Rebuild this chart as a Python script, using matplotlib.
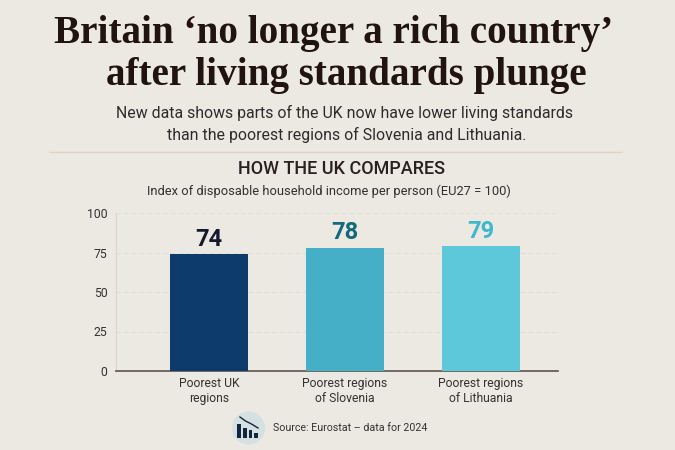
import matplotlib
matplotlib.use("Agg")
import matplotlib.pyplot as plt
from matplotlib.patches import Circle

categories = ["Poorest UK\nregions", "Poorest regions\nof Slovenia", "Poorest regions\nof Lithuania"]
values = [74, 78, 79]
bar_colors = ["#0d3b6c", "#46afc8", "#5cc8da"]
label_colors = ["#15192b", "#12697a", "#3fb8cb"]
y_ticks = [0, 25, 50, 75, 100]
icon_heights = [14, 10, 8, 4.5]
icon_positions = [-9.5, -3.5, 2, 7.5]

BG = "#ece8e2"
W, H = 675, 450

fig = plt.figure(figsize=(W / 100, H / 100), dpi=100, facecolor=BG)


def px(x, y):
    return x / W, 1 - y / H


def put(x, y, s, **kw):
    fig.text(*px(x, y), s, ha=kw.pop("ha", "center"), va="center", **kw)


# Headline block
put(334, 33, "Britain ‘no longer a rich country’", family="Liberation Serif",
    weight="bold", fontsize=28.2, color="#21130f")
put(346, 76, "after living standards plunge", family="Liberation Serif",
    weight="bold", fontsize=28.2, color="#21130f")
put(344.5, 113, "New data shows parts of the UK now have lower living standards",
    family="Roboto", fontsize=11.4, color="#2e2b2a")
put(346.5, 135, "than the poorest regions of Slovenia and Lithuania.",
    family="Roboto", fontsize=11.4, color="#2e2b2a")
fig.add_artist(plt.Line2D([50 / W, 621 / W], [1 - 151.5 / H] * 2, color="#dcd5c6", lw=0.9))
put(341.5, 169, "HOW THE UK COMPARES", family="Roboto", weight="medium",
    fontsize=13, color="#27221f")
put(328.5, 191, "Index of disposable household income per person (EU27 = 100)",
    family="Roboto", fontsize=9.3, color="#332f2d")

# Bar chart
left, right, top, bottom = 116, 558, 213, 371
ax = fig.add_axes([left / W, 1 - bottom / H, (right - left) / W, (bottom - top) / H])
ax.set_facecolor("none")
xs = list(range(len(values)))
ax.bar(xs, values, width=0.57, color=bar_colors, zorder=3)
ax.set_xlim(-0.684, 2.566)
ax.set_ylim(0, 100)
ax.set_xticks(xs, categories, family="Roboto", fontsize=8.7, color="#35312f", linespacing=1.15)
ax.set_yticks(y_ticks, [str(t) for t in y_ticks], family="Roboto", fontsize=8.8, color="#35312f")
ax.tick_params(length=0)
ax.tick_params(axis="x", pad=4.5)
ax.tick_params(axis="y", pad=6)
ax.grid(axis="y", color="#e3ddd3", lw=0.8, ls=(0, (4, 3)), zorder=0)
ax.set_axisbelow(True)
for side in ("top", "right"):
    ax.spines[side].set_visible(False)
ax.spines["left"].set_color("#dcd7ce")
ax.spines["left"].set_linewidth(0.8)
ax.spines["bottom"].set_color("#5a534e")
ax.spines["bottom"].set_linewidth(1.2)
for x, v, c in zip(xs, values, label_colors):
    ax.annotate(str(v), (x, v), xytext=(0, 2.5), textcoords="offset points", ha="center",
                va="bottom", family="Roboto", weight="bold", fontsize=17, color=c)

# Source line with its small falling-bars badge
badge = fig.add_axes([(248.5 - 18) / W, 1 - (428 + 18) / H, 36 / W, 36 / H])
badge.set_xlim(-18, 18)
badge.set_ylim(18, -18)
badge.axis("off")
badge.add_patch(Circle((0, 0), 16.5, color="#d5e0e0", lw=0))
badge.bar(icon_positions, [-h for h in icon_heights], bottom=9.5, width=3.6, color="#12263f")
badge.plot([-8.5, -3, 3, 9.5], [-11, -7, -4, 0], color="#12263f", lw=1)
put(273, 428, "Source: Eurostat – data for 2024", ha="left", family="Roboto",
    fontsize=7.7, color="#35312f")

fig.savefig("out.png", dpi=100, facecolor=BG)
